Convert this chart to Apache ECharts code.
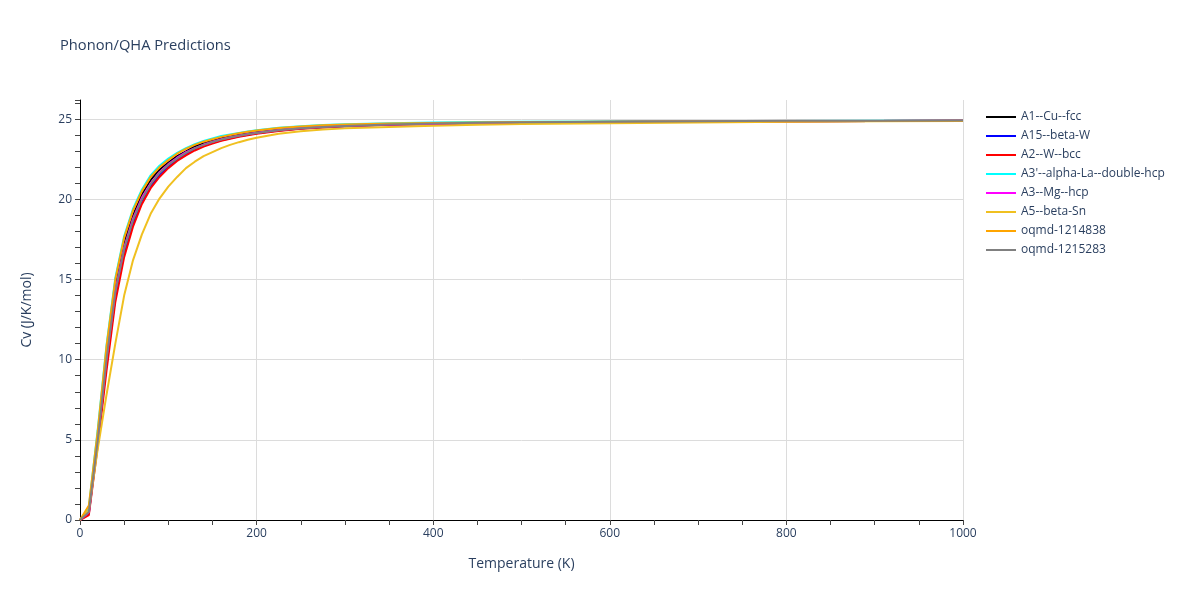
<!DOCTYPE html>
<html>
<head>
<meta charset="utf-8">
<script src="https://cdn.jsdelivr.net/npm/echarts@6/dist/echarts.min.js"></script>
<style>html,body{margin:0;padding:0;background:#fff}#c{width:1200px;height:600px}</style>
</head>
<body>
<div id="c"></div>
<script>
const temps = [0,10,20,30,40,50,60,70,80,90,100,110,120,130,140,150,160,170,180,190,200,225,250,275,300,350,400,450,500,600,700,800,900,1000];

const seriesNames = ['A1--Cu--fcc','A15--beta-W','A2--W--bcc',"A3'--alpha-La--double-hcp",'A3--Mg--hcp','A5--beta-Sn','oqmd-1214838','oqmd-1215283'];

const cuFcc      = [0,0.6,5.2,10.4,14.6,17.3,19.0,20.3,21.2,21.85,22.3,22.7,23.0,23.3,23.5,23.67,23.82,23.94,24.04,24.13,24.2,24.36,24.47,24.55,24.6,24.68,24.73,24.77,24.8,24.84,24.86,24.88,24.89,24.9];
const betaW      = [0,0.4,4.8,9.7,13.9,16.7,18.5,19.9,20.85,21.55,22.05,22.48,22.82,23.1,23.35,23.53,23.69,23.82,23.94,24.03,24.12,24.29,24.42,24.5,24.57,24.66,24.71,24.75,24.78,24.83,24.86,24.88,24.89,24.9];
const wBcc       = [0,0.3,4.6,9.3,13.6,16.4,18.3,19.7,20.7,21.4,21.95,22.4,22.75,23.05,23.3,23.48,23.65,23.78,23.9,24.0,24.1,24.27,24.4,24.49,24.56,24.65,24.71,24.75,24.78,24.83,24.86,24.88,24.89,24.9];
const laDhcp     = [0,0.8,5.6,10.9,15.1,17.7,19.4,20.6,21.5,22.1,22.55,22.9,23.2,23.45,23.65,23.8,23.95,24.05,24.15,24.24,24.32,24.47,24.57,24.64,24.69,24.75,24.79,24.82,24.84,24.86,24.88,24.89,24.9,24.91];
const mgHcp      = [0,0.5,5.0,10.1,14.3,17.0,18.8,20.1,21.0,21.7,22.2,22.6,22.95,23.2,23.42,23.6,23.75,23.88,23.99,24.08,24.16,24.33,24.45,24.53,24.59,24.67,24.72,24.76,24.79,24.83,24.86,24.88,24.89,24.9];
const betaSn     = [0,0.6,4.4,7.8,11.0,14.0,16.2,17.8,19.1,20.05,20.8,21.4,21.95,22.35,22.7,22.95,23.2,23.4,23.57,23.72,23.85,24.1,24.25,24.36,24.43,24.52,24.6,24.65,24.7,24.75,24.8,24.84,24.87,24.89];
const oqmd1214838= [0,0.9,5.5,10.8,15.0,17.6,19.3,20.5,21.4,22.0,22.45,22.85,23.15,23.4,23.6,23.75,23.9,24.02,24.12,24.22,24.3,24.45,24.55,24.62,24.67,24.73,24.77,24.8,24.82,24.85,24.87,24.88,24.89,24.9];
const oqmd1215283= [0,0.5,4.9,10.0,14.2,16.9,18.7,20.0,20.95,21.65,22.15,22.55,22.9,23.18,23.4,23.58,23.73,23.86,23.97,24.06,24.14,24.31,24.44,24.52,24.58,24.67,24.73,24.78,24.81,24.85,24.88,24.9,24.91,24.92];

const seriesValues = [cuFcc, betaW, wBcc, laDhcp, mgHcp, betaSn, oqmd1214838, oqmd1215283];
const seriesColors = ['#000000','#0000ff','#ff0000','#00ffff','#ff00ff','#f0c020','#ffa500','#808080'];

const font = '"Open Sans", verdana, arial, sans-serif';
const txt = '#2a3f5f';

const chart = echarts.init(document.getElementById('c'));
chart.setOption({
  animation: false,
  backgroundColor: '#fff',
  textStyle: { fontFamily: font, color: txt },
  title: {
    text: 'Phonon/QHA Predictions',
    left: 55, top: 33,
    textStyle: { fontFamily: font, fontSize: 14.7, fontWeight: 'normal', color: txt }
  },
  legend: {
    orient: 'vertical',
    left: 981, top: 104,
    itemWidth: 30, itemHeight: 14, itemGap: 3,
    textStyle: { fontFamily: font, fontSize: 12, color: txt, lineHeight: 16 },
    data: seriesNames.map((n, i) => ({ name: n, icon: 'path://M0,0 L30,0 L30,2 L0,2 Z', itemStyle: { color: seriesColors[i] } }))
  },
  grid: { left: 80, right: 237, top: 100, bottom: 80 },
  xAxis: {
    type: 'value', min: 0, max: 1000, interval: 200,
    name: 'Temperature (K)', nameLocation: 'middle', nameGap: 37,
    nameTextStyle: { fontFamily: font, fontSize: 14, color: txt },
    axisLine: { show: true, onZero: false, lineStyle: { color: '#000', width: 1 } },
    axisTick: { show: true, length: 5, lineStyle: { color: '#444' } },
    minorTick: { show: true, splitNumber: 4, length: 5, lineStyle: { color: '#444' } },
    axisLabel: { fontFamily: font, fontSize: 12, color: txt, margin: 8, formatter: v => String(v) },
    splitLine: { show: true, lineStyle: { color: '#dcdcdc', width: 1 } }
  },
  yAxis: {
    type: 'value', min: 0, max: 26.2, interval: 5,
    name: 'Cv (J/K/mol)', nameLocation: 'middle', nameGap: 46, nameRotate: 90,
    nameTextStyle: { fontFamily: font, fontSize: 14, color: txt },
    axisLine: { show: true, onZero: false, lineStyle: { color: '#000', width: 1 } },
    axisTick: { show: true, length: 5, lineStyle: { color: '#444' } },
    minorTick: { show: true, splitNumber: 5, length: 5, lineStyle: { color: '#444' } },
    axisLabel: { fontFamily: font, fontSize: 12, color: txt, margin: 8, showMaxLabel: false,
      formatter: v => (Math.abs(v % 5) < 1e-9 ? String(v) : '') },
    splitLine: { show: true, showMaxLine: false, lineStyle: { color: '#dcdcdc', width: 1 } }
  },
  series: seriesValues.map((vals, i) => ({
    name: seriesNames[i],
    type: 'line',
    symbol: 'none',
    smooth: false,
    data: temps.map((t, j) => [t, vals[j]]),
    lineStyle: { color: seriesColors[i], width: 2 },
    itemStyle: { color: seriesColors[i] },
    z: 2 + i
  }))
});
</script>
</body>
</html>
